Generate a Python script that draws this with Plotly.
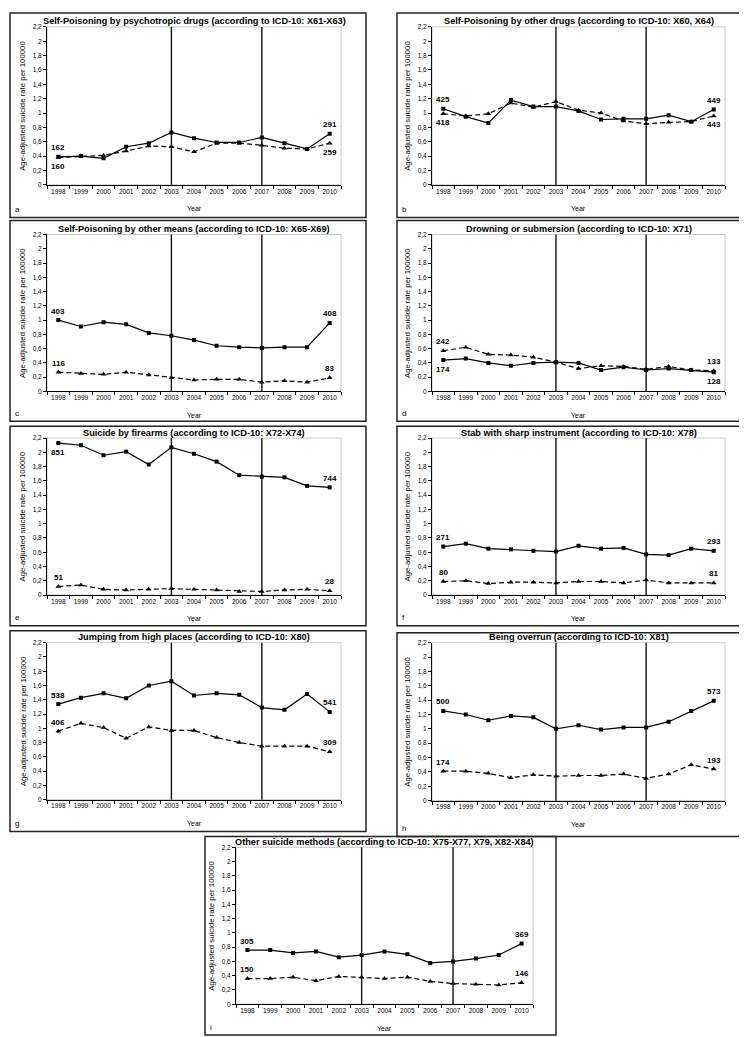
import plotly.graph_objects as go

W, H = 747, 1037

years = ["1998", "1999", "2000", "2001", "2002", "2003", "2004",
         "2005", "2006", "2007", "2008", "2009", "2010"]
event_years = ["2003", "2007"]
y_title = "Age-adjusted suicide rate per 100000"
x_title = "Year"

a_title = "Self-Poisoning by psychotropic drugs (according to ICD-10: X61-X63)"
a_solid = [0.39, 0.40, 0.37, 0.53, 0.58, 0.73, 0.65, 0.59, 0.59, 0.66, 0.58, 0.50, 0.71]
a_dashed = [0.38, 0.40, 0.41, 0.47, 0.54, 0.53, 0.46, 0.58, 0.58, 0.55, 0.51, 0.50, 0.58]
a_solid_labels = ["162", "291"]
a_dashed_labels = ["160", "259"]

b_title = "Self-Poisoning by other drugs (according to ICD-10: X60, X64)"
b_solid = [1.06, 0.95, 0.86, 1.18, 1.09, 1.09, 1.03, 0.91, 0.92, 0.92, 0.97, 0.88, 1.05]
b_dashed = [0.99, 0.96, 0.99, 1.14, 1.08, 1.16, 1.04, 1.00, 0.89, 0.85, 0.87, 0.88, 0.96]
b_solid_labels = ["425", "449"]
b_dashed_labels = ["418", "443"]

c_title = "Self-Poisoning by other means (according to ICD-10: X65-X69)"
c_solid = [1.00, 0.91, 0.97, 0.94, 0.82, 0.78, 0.72, 0.64, 0.62, 0.61, 0.62, 0.62, 0.96]
c_dashed = [0.27, 0.25, 0.24, 0.27, 0.23, 0.19, 0.16, 0.17, 0.17, 0.13, 0.15, 0.13, 0.19]
c_solid_labels = ["403", "408"]
c_dashed_labels = ["116", "83"]

d_title = "Drowning or submersion (according to ICD-10: X71)"
d_solid = [0.44, 0.46, 0.40, 0.36, 0.40, 0.41, 0.40, 0.30, 0.34, 0.30, 0.32, 0.30, 0.27]
d_dashed = [0.57, 0.62, 0.52, 0.51, 0.48, 0.41, 0.32, 0.36, 0.35, 0.31, 0.35, 0.30, 0.29]
d_solid_labels = ["174", "128"]
d_dashed_labels = ["242", "133"]

e_title = "Suicide by firearms (according to ICD-10: X72-X74)"
e_solid = [2.13, 2.10, 1.96, 2.01, 1.83, 2.07, 1.98, 1.87, 1.68, 1.66, 1.65, 1.53, 1.51]
e_dashed = [0.12, 0.14, 0.08, 0.07, 0.08, 0.09, 0.08, 0.07, 0.05, 0.05, 0.07, 0.08, 0.06]
e_solid_labels = ["851", "744"]
e_dashed_labels = ["51", "28"]

f_title = "Stab with sharp instrument (according to ICD-10: X78)"
f_solid = [0.68, 0.72, 0.65, 0.64, 0.62, 0.61, 0.69, 0.65, 0.66, 0.57, 0.56, 0.65, 0.62]
f_dashed = [0.19, 0.20, 0.16, 0.18, 0.18, 0.17, 0.19, 0.19, 0.17, 0.21, 0.17, 0.17, 0.17]
f_solid_labels = ["271", "293"]
f_dashed_labels = ["80", "81"]

g_title = "Jumping from high places (according to ICD-10: X80)"
g_solid = [1.34, 1.43, 1.49, 1.42, 1.60, 1.66, 1.46, 1.49, 1.47, 1.29, 1.26, 1.48, 1.23]
g_dashed = [0.96, 1.07, 1.01, 0.86, 1.02, 0.97, 0.97, 0.87, 0.80, 0.75, 0.75, 0.75, 0.67]
g_solid_labels = ["538", "541"]
g_dashed_labels = ["406", "309"]

h_title = "Being overrun (according to ICD-10: X81)"
h_solid = [1.25, 1.20, 1.12, 1.18, 1.16, 1.00, 1.05, 0.99, 1.02, 1.02, 1.10, 1.25, 1.39]
h_dashed = [0.41, 0.41, 0.38, 0.32, 0.36, 0.34, 0.35, 0.35, 0.37, 0.31, 0.37, 0.50, 0.44]
h_solid_labels = ["500", "573"]
h_dashed_labels = ["174", "193"]

i_title = "Other suicide methods (according to ICD-10: X75-X77, X79, X82-X84)"
i_solid = [0.76, 0.76, 0.72, 0.74, 0.66, 0.69, 0.74, 0.70, 0.58, 0.60, 0.64, 0.69, 0.85]
i_dashed = [0.36, 0.36, 0.38, 0.33, 0.39, 0.38, 0.36, 0.38, 0.32, 0.29, 0.28, 0.27, 0.30]
i_solid_labels = ["305", "369"]
i_dashed_labels = ["150", "146"]

# ---- layout geometry (pixels): box, plot area, label sides ----
panels = [
    dict(letter="a", title=a_title, solid=a_solid, dashed=a_dashed,
         sl=a_solid_labels, dl=a_dashed_labels,
         box=(2, 358, 1, 207), plot=(39, 333, 15, 174),
         sside=("up", "up"), dside=("down", "down")),
    dict(letter="b", title=b_title, solid=b_solid, dashed=b_dashed,
         sl=b_solid_labels, dl=b_dashed_labels,
         box=(389, 741, 1, 207), plot=(424, 717, 15, 174),
         sside=("up", "up"), dside=("down", "down")),
    dict(letter="c", title=c_title, solid=c_solid, dashed=c_dashed,
         sl=c_solid_labels, dl=c_dashed_labels,
         box=(2, 358, 210, 412), plot=(39, 333, 224, 382),
         sside=("up", "up"), dside=("up", "up")),
    dict(letter="d", title=d_title, solid=d_solid, dashed=d_dashed,
         sl=d_solid_labels, dl=d_dashed_labels,
         box=(389, 741, 210, 412), plot=(424, 717, 224, 382),
         sside=("down", "down"), dside=("up", "up")),
    dict(letter="e", title=e_title, solid=e_solid, dashed=e_dashed,
         sl=e_solid_labels, dl=e_dashed_labels,
         box=(2, 358, 417, 618), plot=(39, 333, 429, 587),
         sside=("down", "up"), dside=("up", "up")),
    dict(letter="f", title=f_title, solid=f_solid, dashed=f_dashed,
         sl=f_solid_labels, dl=f_dashed_labels,
         box=(389, 741, 417, 618), plot=(424, 717, 429, 587),
         sside=("up", "up"), dside=("up", "up")),
    dict(letter="g", title=g_title, solid=g_solid, dashed=g_dashed,
         sl=g_solid_labels, dl=g_dashed_labels,
         box=(2, 358, 623, 825), plot=(39, 333, 635, 793),
         sside=("up", "up"), dside=("up", "up")),
    dict(letter="h", title=h_title, solid=h_solid, dashed=h_dashed,
         sl=h_solid_labels, dl=h_dashed_labels,
         box=(389, 741, 625, 830), plot=(424, 717, 635, 794),
         sside=("up", "up"), dside=("up", "up")),
    dict(letter="i", title=i_title, solid=i_solid, dashed=i_dashed,
         sl=i_solid_labels, dl=i_dashed_labels,
         box=(197, 548, 830, 1030), plot=(228, 525, 841, 999),
         sside=("up", "up"), dside=("up", "up")),
]

FONT = "Liberation Sans, Arial, sans-serif"


def fx(px):
    return px / W


def fy(py):
    return 1 - py / H


# numeric positions of the year categories (index on the axis)
pos = list(range(len(years)))
bounds = [i - 0.5 for i in range(len(years) + 1)]

fig = go.Figure()
shapes = []
annotations = []
layout_axes = {}

for k, p in enumerate(panels, start=1):
    xa = "x" if k == 1 else f"x{k}"
    ya = "y" if k == 1 else f"y{k}"
    xname = "xaxis" if k == 1 else f"xaxis{k}"
    yname = "yaxis" if k == 1 else f"yaxis{k}"
    bx0, bx1, by0, by1 = p["box"]
    px0, px1, py0, py1 = p["plot"]

    layout_axes[xname] = dict(
        domain=[fx(px0), fx(px1)], anchor=ya, type="linear",
        range=[bounds[0], bounds[-1]],
        tickmode="array", tickvals=pos, ticktext=years, ticks="",
        minor=dict(tickmode="array", tickvals=bounds, ticks="outside",
                   ticklen=3, tickwidth=1, tickcolor="#000", showgrid=False),
        showline=True, linecolor="#000", linewidth=1,
        showgrid=False, zeroline=False, fixedrange=True,
        tickfont=dict(family=FONT, size=6.5, color="#000"), tickangle=0,
    )
    layout_axes[yname] = dict(
        domain=[fy(py1), fy(py0)], anchor=xa, range=[0, 2.2],
        tick0=0, dtick=0.2, ticks="outside", ticklen=3, tickwidth=1,
        tickcolor="#000", showline=True, linecolor="#000", linewidth=1,
        showgrid=False, zeroline=False, fixedrange=True,
        tickfont=dict(family=FONT, size=6.5, color="#000"),
    )

    fig.add_trace(go.Scatter(
        x=pos, y=p["dashed"], xaxis=xa, yaxis=ya, mode="lines+markers",
        line=dict(color="#000", width=1.2, dash="5px,3px"),
        marker=dict(symbol="triangle-up", size=5, color="#000"),
        showlegend=False, hoverinfo="skip"))
    fig.add_trace(go.Scatter(
        x=pos, y=p["solid"], xaxis=xa, yaxis=ya, mode="lines+markers",
        line=dict(color="#000", width=1.2),
        marker=dict(symbol="square", size=4, color="#000"),
        showlegend=False, hoverinfo="skip"))

    # panel border
    shapes.append(dict(type="rect", xref="paper", yref="paper",
                       x0=fx(bx0), x1=fx(bx1), y0=fy(by1), y1=fy(by0),
                       line=dict(color="#222", width=1.5)))
    # plot area frame
    shapes.append(dict(type="rect", xref="paper", yref="paper",
                       x0=fx(px0), x1=fx(px1), y0=fy(py1), y1=fy(py0),
                       line=dict(color="#c8c8c8", width=1), layer="below"))
    # event lines
    for ev in event_years:
        xv = pos[years.index(ev)]
        shapes.append(dict(type="line", xref=xa, yref=f"{ya} domain",
                           x0=xv, x1=xv, y0=0, y1=1,
                           line=dict(color="#111", width=1.4)))

    # title
    annotations.append(dict(
        text=p["title"], xref="paper", yref="paper",
        x=fx((px0 + px1) / 2), y=fy(py0 - 5.5), xanchor="center",
        yanchor="middle", showarrow=False,
        font=dict(family=FONT, size=9.2, color="#000", weight="bold")))
    # x title
    annotations.append(dict(
        text=x_title, xref="paper", yref="paper",
        x=fx((px0 + px1) / 2), y=fy(py1 + 24), xanchor="center",
        yanchor="middle", showarrow=False,
        font=dict(family=FONT, size=7, color="#000")))
    # y title
    annotations.append(dict(
        text=y_title, xref="paper", yref="paper", textangle=-90,
        x=fx(px0 - 24), y=fy((py0 + py1) / 2), xanchor="center",
        yanchor="middle", showarrow=False,
        font=dict(family=FONT, size=7.8, color="#000")))
    # panel letter
    annotations.append(dict(
        text=p["letter"], xref="paper", yref="paper",
        x=fx(bx0 + 3), y=fy(by1 - 8), xanchor="left",
        yanchor="middle", showarrow=False,
        font=dict(family=FONT, size=8, color="#000")))

    # count labels at first and last year
    for series, labels, sides in ((p["solid"], p["sl"], p["sside"]),
                                  (p["dashed"], p["dl"], p["dside"])):
        for idx, lab, side in ((0, labels[0], sides[0]),
                               (-1, labels[1], sides[1])):
            annotations.append(dict(
                text=lab, xref=xa, yref=ya, x=pos[idx], y=series[idx],
                yshift=9 if side == "up" else -9, xanchor="center",
                yanchor="middle", showarrow=False,
                font=dict(family=FONT, size=8, color="#000",
                          weight="bold")))

fig.update_layout(
    width=W, height=H, margin=dict(l=0, r=0, t=0, b=0),
    paper_bgcolor="white", plot_bgcolor="white",
    separators=",.", showlegend=False,
    shapes=shapes, annotations=annotations,
    **layout_axes,
)

fig.write_html("out.html")
